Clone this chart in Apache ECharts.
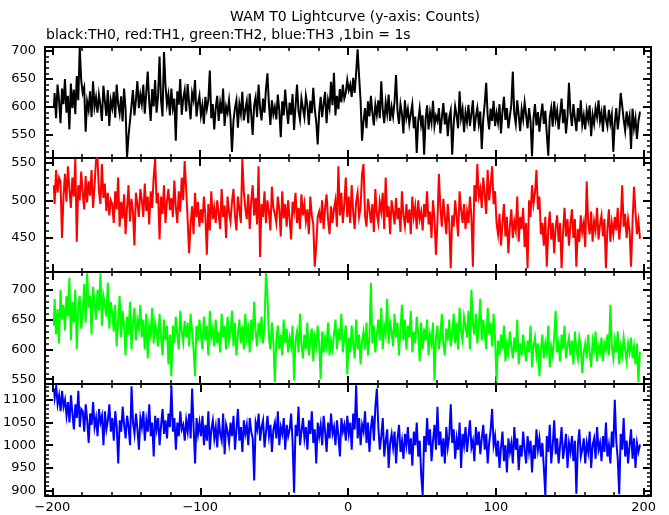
<!DOCTYPE html>
<html><head><meta charset="utf-8">
<script src="https://cdn.jsdelivr.net/npm/echarts@6/dist/echarts.min.js"></script>
<style>html,body{margin:0;padding:0;background:#fff}#c{width:669px;height:515px}</style>
</head><body><div id="c"></div>
<script>
// first bin centre (seconds); 1 bin = 1 s
const tStart = -199;

// TH0 (black)
const th0 = [
598,625,580,640,612,571,633,605,650,590,
620,560,642,598,631,587,655,612,706,648,
625,635,556,610,595,628,582,646,600,617,
590,622,603,575,638,611,584,630,566,612,
598,627,581,640,605,588,619,574,633,596,
510,548,575,602,630,585,612,646,598,622,
605,640,588,625,663,610,575,632,601,648,
590,620,690,612,583,698,640,605,622,585,
633,598,615,540,628,604,650,586,615,630,
592,641,607,578,625,612,648,583,606,620,
585,603,570,618,596,612,665,580,605,560,
598,620,575,607,588,633,566,601,590,612,
580,520,575,598,612,563,605,588,627,576,
595,610,571,624,588,550,603,617,582,640,
598,576,615,590,632,660,605,568,612,587,
600,578,622,594,546,610,585,631,597,570,
608,586,623,559,601,640,593,577,615,598,
582,620,603,568,611,589,634,596,574,533,
590,618,582,606,627,571,612,598,645,603,
661,585,620,596,632,608,640,615,625,648,
630,640,618,652,625,660,703,655,612,540,
575,598,562,610,583,620,590,567,604,586,
612,580,646,595,571,608,588,622,575,600,
583,610,657,592,570,605,588,553,612,581,
596,570,588,605,562,583,518,575,597,568,
585,515,578,603,560,590,572,611,566,584,
575,598,553,581,607,569,590,548,582,594,
515,570,601,585,562,628,580,596,555,590,
573,604,566,588,612,557,583,598,570,592,
525,578,606,643,584,560,597,575,611,566,
589,572,605,553,592,618,577,598,562,583,
604,663,588,570,612,585,557,596,578,608,
586,562,598,575,512,580,605,567,591,556,
584,606,570,593,552,513,582,598,565,610,
578,594,560,587,615,571,596,553,583,643,
590,566,605,580,557,598,574,612,568,585,
560,594,577,603,548,586,570,598,582,612,
575,590,556,603,578,565,595,571,587,520,
572,598,560,585,625,603,578,558,592,570,
584,525,597,562,580,543,575,590];

// TH1 (red)
const th1 = [
520,495,540,510,530,525,450,505,535,498,
545,515,490,530,505,555,445,520,500,538,
510,488,532,497,525,506,540,490,518,553,
556,512,495,548,503,522,486,510,480,500,
495,470,512,488,530,465,498,476,508,455,
490,520,472,502,485,440,510,495,478,515,
500,478,522,486,505,468,512,490,530,555,
496,510,448,505,482,520,470,498,515,487,
503,478,526,491,470,512,485,530,500,552,
515,475,430,468,492,455,510,478,498,465,
488,470,505,480,428,495,460,512,475,490,
470,500,482,462,515,478,493,450,505,484,
472,498,515,480,460,505,488,470,555,512,
490,475,508,462,498,520,480,503,468,545,
425,495,478,512,470,500,485,460,518,490,
482,470,505,488,452,512,476,495,465,500,
475,448,498,485,510,470,490,462,508,480,
495,472,488,455,505,480,468,412,440,478,
485,470,500,462,490,508,475,455,492,470,
488,500,465,545,480,510,470,495,530,478,
505,470,520,485,462,498,510,478,490,535,
548,480,465,502,488,470,495,458,515,482,
470,498,485,510,462,530,478,492,455,500,
485,468,503,475,490,458,512,480,466,495,
470,488,455,505,478,492,462,500,475,485,
460,495,478,512,468,485,450,500,476,428,
470,535,490,465,502,478,455,495,470,410,
480,465,500,478,452,512,488,470,495,462,
485,470,505,478,412,520,498,548,505,515,
490,530,508,482,540,500,520,545,495,512,
470,455,482,440,470,495,452,478,430,465,
488,450,472,460,505,445,478,462,490,438,
470,410,500,478,520,495,510,540,488,505,
455,470,440,478,412,462,485,448,470,430,
465,480,445,470,410,458,490,452,475,440,
468,488,450,475,412,462,445,480,458,470,
438,525,470,455,485,445,472,460,490,448,
468,480,452,475,410,462,488,445,470,455,
478,460,490,448,470,520,465,482,450,475,
460,412,470,518,485,455,472,450];

// TH2 (green)
const th2 = [
640,685,625,668,610,700,650,675,632,690,
655,720,615,680,645,700,600,670,690,635,
660,710,645,728,670,690,625,705,680,650,
700,665,728,640,690,675,655,712,635,680,
660,630,675,605,650,690,620,665,640,590,
655,625,680,600,645,670,615,650,635,675,
620,650,600,660,585,640,625,670,610,645,
630,605,660,620,590,650,615,640,575,625,
555,640,610,655,625,600,665,630,612,648,
620,645,605,660,630,600,555,640,615,650,
625,600,655,615,640,590,665,620,635,605,
650,610,630,595,660,620,640,600,655,615,
630,665,605,645,590,625,650,610,640,600,
660,620,635,595,650,615,680,630,605,645,
625,655,610,640,728,690,620,600,645,615,
545,615,640,600,625,590,650,610,635,595,
620,605,640,548,615,630,595,660,610,585,
625,600,645,590,615,635,580,620,605,640,
610,550,630,595,620,605,645,590,615,600,
625,650,600,635,615,660,595,620,640,558,
620,595,640,610,585,650,600,625,575,615,
630,600,645,590,620,712,610,640,595,625,
650,615,670,600,640,625,685,610,645,630,
605,660,620,645,590,635,675,615,650,600,
640,620,665,595,630,610,655,625,580,645,
600,635,615,650,590,625,610,645,548,620,
640,600,625,660,610,590,635,615,650,605,
625,660,610,645,600,670,630,615,655,640,
620,665,600,700,645,625,660,610,640,685,
615,650,630,600,670,625,645,605,660,620,
545,615,590,625,600,640,580,610,595,630,
605,585,620,595,650,575,610,590,625,600,
580,615,595,640,570,605,620,590,610,555,
600,625,585,610,595,640,570,605,590,620,
665,595,610,580,625,600,640,585,605,620,
590,615,575,630,600,585,620,605,560,595,
610,585,625,595,570,615,600,630,580,605,
595,620,580,610,600,625,590,675,605,585,
615,595,630,575,605,590,620,600,580,610,
595,620,585,605,575,610,545,595];

// TH3 (blue)
const th3 = [
1125,1105,1130,1090,1110,1075,1120,1085,1100,1065,
1095,1050,1110,1070,1035,1090,1060,1120,1040,1080,
1075,1030,1090,1055,1005,1070,1045,1095,1040,1060,
1020,1080,1050,1065,1000,1075,1035,1055,1090,1030,
1060,1010,1075,1040,960,1055,1030,1085,1045,1015,
1065,1040,1000,1130,1050,1025,1070,1035,990,1060,
1040,1075,1010,1055,1030,1090,1020,1050,975,1065,
1035,1060,1000,1045,1080,1025,1055,1015,1070,1040,
1130,1030,1060,990,1050,1020,1075,1035,1045,1010,
1055,1030,1070,1015,1125,1040,960,1060,1025,1050,
1020,1065,1000,1045,1010,1075,990,1035,1055,1015,
1040,995,1060,1025,1010,1070,980,1045,1030,1005,
1050,1020,1065,990,1035,1080,1010,1040,985,1055,
1025,1045,1000,1060,1030,1015,922,1050,1035,1070,
1010,1040,1055,995,1030,1065,1020,1045,985,1035,
1050,1015,1075,1000,1040,1025,1060,990,1045,1020,
1035,1070,1005,895,1045,1020,1085,1000,1030,1060,
1015,1040,990,1055,1025,1075,1005,1035,960,1050,
1020,1045,1000,1065,1030,985,1050,1015,1070,1025,
1040,1000,1055,1020,975,1060,1030,1045,1010,1065,
1025,1050,990,1070,1035,1132,1015,1060,1000,1045,
1030,1075,1005,1050,985,1040,1065,1010,1085,1125,
1040,990,1020,1060,975,1010,1035,950,1005,1025,
995,1030,960,1015,1045,985,1010,970,1025,1000,
1040,980,1015,955,1030,1000,1050,975,1010,935,
890,1020,985,1060,1000,1035,965,1010,1045,990,
1085,1000,1030,975,1015,960,1040,995,1020,1090,
1005,1035,970,1015,990,1050,950,1025,1000,1040,
985,1020,1055,995,1010,965,1040,1000,1030,980,
1015,1045,990,1025,960,1005,1035,1080,1000,1020,
975,1010,950,995,1030,965,1000,940,1015,985,
1005,960,1040,990,1015,945,1000,975,1030,990,
960,1020,985,1010,940,1000,970,1035,990,1015,
975,1005,950,890,1020,985,1045,960,1000,1055,
980,1015,960,1000,1040,970,995,1025,950,1005,
985,1020,965,1010,893,1000,1035,975,990,1015,
960,1005,985,1030,950,1000,1015,970,1040,990,
1005,965,1020,985,1050,975,1000,960,1030,995,
1100,1010,970,892,1025,990,1060,975,1010,960,
1000,1035,970,1015,950,1005,985,1000];

const seriesData = [th0, th1, th2, th3];
const seriesColors = ['#000000', '#ff0000', '#00ff00', '#0000ff'];

// axis extents and tick values
const xRange = [-205, 205];
const xMajorTicks = [-200, -100, 0, 100, 200];
const xMinorTicks = [-200,-180,-160,-140,-120,-100,-80,-60,-40,-20,0,20,40,60,80,100,120,140,160,180,200];
const yRanges = [[509, 707], [405, 556], [542, 730], [888, 1135]];
const yMajorTicks = [[550, 600, 650, 700], [450, 500, 550], [550, 600, 650, 700], [900, 950, 1000, 1050, 1100]];
const yMinorStep = [10, 10, 10, 10];

const titleText = 'WAM T0 Lightcurve (y-axis: Counts)';
const subtitleText = 'black:TH0, red:TH1, green:TH2, blue:TH3 ,1bin = 1s';

// layout
const panelTops = [47, 158, 272, 384];
const panelHeights = [111, 114, 112, 112];
const gridLeft = 45, gridRight = 18;
const FONT = 'DejaVu Sans';

function minorList(r, step) {
  const out = [];
  for (let v = Math.ceil(r[0] / step) * step; v <= r[1]; v += step) out.push(v);
  return out;
}
const fmt = v => (v < 0 ? '\u2212' + Math.abs(v) : String(v));

const grids = [], xAxes = [], yAxes = [], series = [];
for (let p = 0; p < 4; p++) {
  grids.push({ left: gridLeft, right: gridRight, top: panelTops[p], height: panelHeights[p], containLabel: false });
  const xBase = {
    gridIndex: p, type: 'value', min: xRange[0], max: xRange[1],
    splitLine: { show: false }, axisPointer: { show: false }
  };
  const lineOn = { show: true, onZero: false, lineStyle: { color: '#000', width: 2 } };
  const lineOff = { show: false, onZero: false };
  ['bottom', 'top'].forEach(pos => {
    xAxes.push(Object.assign({}, xBase, {
      position: pos, axisLine: lineOn,
      axisTick: { show: true, inside: true, length: 8, customValues: xMajorTicks, lineStyle: { color: '#000', width: 2 } },
      axisLabel: {
        show: p === 3 && pos === 'bottom', customValues: xMajorTicks, formatter: fmt,
        color: '#000', fontFamily: FONT, fontSize: 13, margin: 5
      }
    }));
    xAxes.push(Object.assign({}, xBase, {
      position: pos, axisLine: lineOff,
      axisTick: { show: true, inside: true, length: 4, customValues: xMinorTicks, lineStyle: { color: '#000', width: 1.5 } },
      axisLabel: { show: false }
    }));
  });
  const yBase = {
    gridIndex: p, type: 'value', min: yRanges[p][0], max: yRanges[p][1],
    splitLine: { show: false }, axisPointer: { show: false }
  };
  ['left', 'right'].forEach(pos => {
    yAxes.push(Object.assign({}, yBase, {
      position: pos, axisLine: lineOn,
      axisTick: { show: true, inside: true, length: 8, customValues: yMajorTicks[p], lineStyle: { color: '#000', width: 2 } },
      axisLabel: {
        show: pos === 'left', customValues: yMajorTicks[p], formatter: fmt,
        color: '#000', fontFamily: FONT, fontSize: 13, margin: 9
      }
    }));
    yAxes.push(Object.assign({}, yBase, {
      position: pos, axisLine: lineOff,
      axisTick: { show: true, inside: true, length: 4, customValues: minorList(yRanges[p], yMinorStep[p]), lineStyle: { color: '#000', width: 1.5 } },
      axisLabel: { show: false }
    }));
  });
  series.push({
    type: 'line', xAxisIndex: 4 * p, yAxisIndex: 4 * p,
    data: seriesData[p].map((v, i) => [tStart + i, v]),
    step: 'middle', showSymbol: false, symbol: 'none', clip: true,
    lineStyle: { color: seriesColors[p], width: 2, join: 'miter', cap: 'butt' },
    emphasis: { disabled: true }, silent: true, animation: false
  });
}

const chart = echarts.init(document.getElementById('c'), null, { renderer: 'canvas' });
chart.setOption({
  backgroundColor: '#fff',
  animation: false,
  grid: grids, xAxis: xAxes, yAxis: yAxes, series: series,
  graphic: [
    { type: 'text', x: 355, y: 17, style: { text: titleText, fill: '#000', font: '14px "' + FONT + '"', textAlign: 'center', textVerticalAlign: 'middle' } },
    { type: 'text', x: 46, y: 35, style: { text: subtitleText, fill: '#000', font: '14px "' + FONT + '"', textAlign: 'left', textVerticalAlign: 'middle' } }
  ]
});
</script>
</body></html>
